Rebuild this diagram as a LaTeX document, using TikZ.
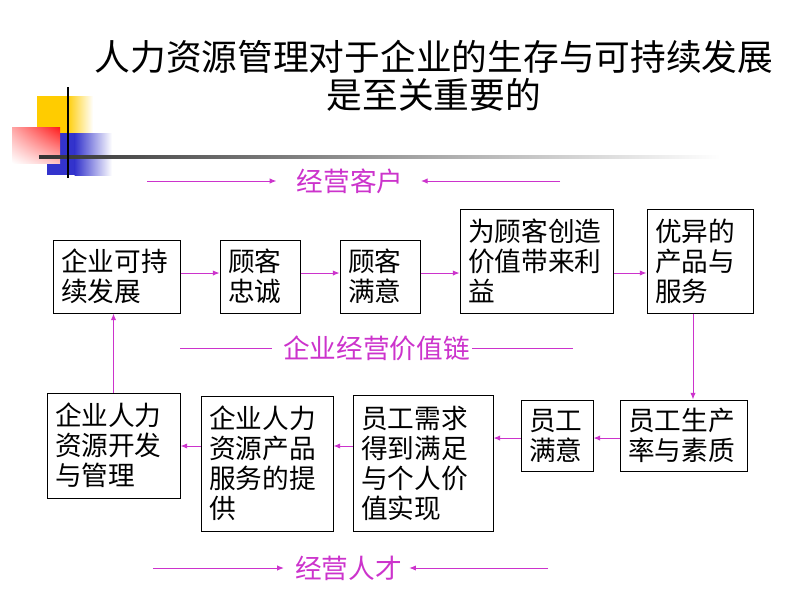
\documentclass[tikz,border=0pt]{standalone}
\usepackage{fontspec}
\newfontfamily\cjk{Noto Sans CJK SC}
\usetikzlibrary{arrows.meta,calc,shadings}
\definecolor{mag}{RGB}{204,51,204}
\definecolor{gold}{RGB}{255,204,0}
\definecolor{pblue}{RGB}{51,51,204}
\begin{document}
\begin{tikzpicture}[x=0.75pt,y=-0.75pt,
  box/.style={draw=black,line width=0.75pt,inner xsep=6pt,inner ysep=0pt,align=left,
    font=\cjk\fontsize{20}{22.5}\selectfont},
  arr/.style={draw=mag,line width=0.75pt,-{Latex[length=5pt,width=4pt]}},
  mline/.style={draw=mag,line width=0.75pt},
  mtext/.style={text=mag,font=\cjk\fontsize{20}{24}\selectfont,inner sep=0pt}]
\useasboundingbox (0,0) rectangle (800,600);
\fill[white] (0,0) rectangle (800,600);

% decoration
\fill[gold] (37,96) rectangle (67,133);
\shade[left color=gold,right color=white] (66.5,96) rectangle (93,133);
\fill[pblue] (47,133) rectangle (75,175);
\shade[left color=pblue,right color=white] (74.5,133) rectangle (112,175);
\shade[upper left=red!35!white,upper right=red!90!white,lower left=white,lower right=red!25!white] (12,127) rectangle (60,163);
\shade[left color=black!80,right color=white] (39,155.5) rectangle (720,158.5);
\draw[line width=1.5pt,black] (68,87) -- (68,178);

% title
\node[font=\cjk\fontsize{26.8}{28.5}\selectfont,align=center,inner sep=0pt] (title) at (434,76)
  {人力资源管理对于企业的生存与可持续发展\\是至关重要的};

% boxes
\node[box,text width=83.25pt,minimum height=54.75pt] (b1) at (116.5,276.5) {企业可持\\续发展};
\node[box,text width=48pt,minimum height=54.75pt] (b2) at (260,276.5) {顾客\\忠诚};
\node[box,text width=48pt,minimum height=54.75pt] (b3) at (380,276.5) {顾客\\满意};
\node[box,text width=102.75pt,minimum height=78pt] (b4) at (536.5,261) {为顾客创造\\价值带来利\\益};
\node[box,text width=67.5pt,minimum height=78pt] (b5) at (700,261) {优异的\\产品与\\服务};
\node[box,text width=83.25pt,minimum height=53.25pt] (b10) at (683.5,435.5) {员工生产\\率与素质};
\node[box,text width=42pt,minimum height=53.25pt] (b9) at (557,435.5) {员工\\满意};
\node[box,text width=93pt,minimum height=102pt] (b8) at (423,463) {员工需求\\得到满足\\与个人价\\值实现};
\node[box,text width=87pt,minimum height=101.25pt] (b7) at (267,463.5) {企业人力\\资源产品\\服务的提\\供};
\node[box,text width=87.75pt,minimum height=78.75pt] (b6) at (113.5,445.5) {企业人力\\资源开发\\与管理};

% connectors
\draw[arr] ([yshift=2.6pt]b1.east) -- ([yshift=2.6pt]b1.east -| b2.west);
\draw[arr] ([yshift=2.6pt]b2.east) -- ([yshift=2.6pt]b2.east -| b3.west);
\draw[arr] ([yshift=2.6pt]b3.east) -- ([yshift=2.6pt]b3.east -| b4.west);
\draw[arr] ([yshift=-9pt]b4.east) -- ([yshift=-9pt]b4.east -| b5.west);
\draw[arr] ([xshift=-5.25pt]b5.south) -- ([xshift=-5.25pt]b5.south |- b10.north);
\draw[arr] ([yshift=-1.9pt]b10.west) -- ([yshift=-1.9pt]b10.west -| b9.east);
\draw[arr] ([yshift=-1.9pt]b9.west) -- ([yshift=-1.9pt]b9.west -| b8.east);
\draw[arr] ([yshift=12.75pt]b8.west) -- ([yshift=12.75pt]b8.west -| b7.east);
\draw[arr] ([yshift=12.75pt]b8.west -| b7.west) -- ([yshift=12.75pt]b8.west -| b6.east);
\draw[arr] (b6.north) -- (b6.north |- b1.south);

% magenta rows
\node[mtext] (t1) at (350,181) {经营客户};
\coordinate (t1a) at (147,181);
\coordinate (t1b) at (560,181);
\draw[arr] (t1a) -- ([xshift=-15pt]t1.west);
\draw[arr] (t1b) -- ([xshift=13pt]t1.east);

\node[mtext] (t2) at (376.5,348) {企业经营价值链};
\coordinate (t2a) at (180,348);
\coordinate (t2b) at (573,348);
\draw[mline] (t2a) -- ([xshift=-8.25pt]t2.west);
\draw[mline] ([xshift=1.5pt]t2.east) -- (t2b);

\node[mtext] (t3) at (348.5,568) {经营人才};
\coordinate (t3a) at (153,568);
\coordinate (t3b) at (548,568);
\draw[arr] (t3a) -- ([xshift=-8.25pt]t3.west);
\draw[arr] (t3b) -- ([xshift=5.4pt]t3.east);
\end{tikzpicture}
\end{document}
